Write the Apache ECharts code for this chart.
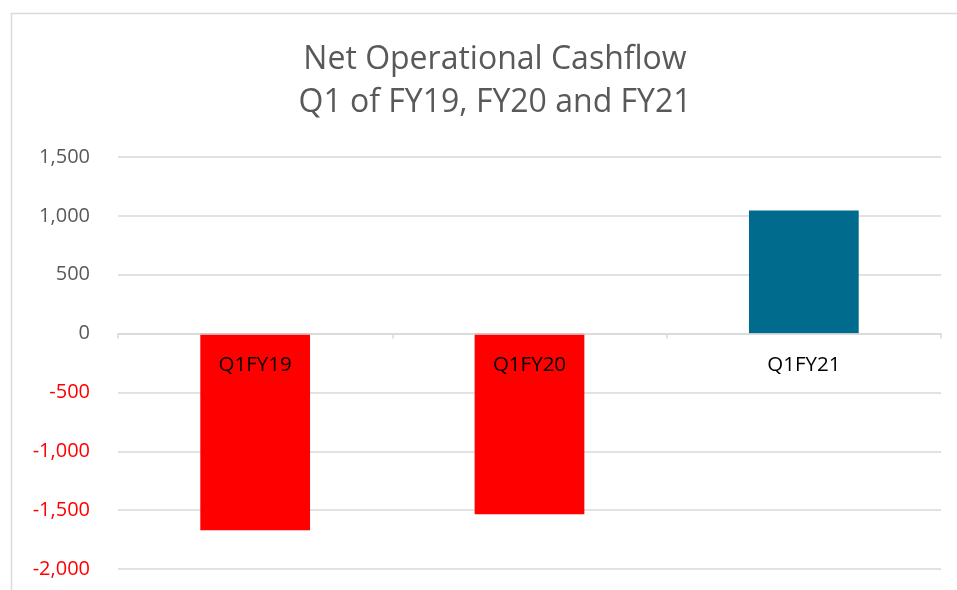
<!DOCTYPE html>
<html lang="en">
<head>
    <meta charset="utf-8">
    <title>Net Operational Cashflow</title>
    <script src="https://cdn.jsdelivr.net/npm/echarts@6/dist/echarts.min.js"></script>
    <style>
        html, body {margin: 0; padding: 0; background: #fff;}
    </style>
</head>
<body>
<div id="main" style="width: 957px;height:590px;"></div>
<script type="application/javascript">
    // data
    var quarters = ['Q1FY19', 'Q1FY20', 'Q1FY21'];
    var cashflow = [-1670, -1535, 1045];
    var titleLines = ['Net Operational Cashflow', 'Q1 of FY19, FY20 and FY21'];

    var chart = echarts.init(document.getElementById('main'));

    function fmt(v) {
        var s = Math.abs(v).toString().replace(/\B(?=(\d{3})+(?!\d))/g, ',');
        return (v < 0 ? '-' : '') + s;
    }

    // grid from 157 to 569 px, value range -2000..1500 -> zero line sits here
    var gridTop = 157, gridBottom = 569, yMin = -2000, yMax = 1500;
    var zeroShift = (gridBottom - gridTop) * (0 - yMin) / (yMax - yMin);

    var option = {
        animation: false,
        backgroundColor: '#fff',
        title: {
            text: titleLines.join('\n'),
            left: 490,
            top: 33,
            textAlign: 'center',
            textStyle: {
                fontFamily: 'Open Sans',
                fontWeight: 'normal',
                fontSize: 32,
                lineHeight: 43,
                color: '#595959'
            }
        },
        // chart area frame, like the Excel border
        graphic: [{
            type: 'rect',
            shape: {x: 11.5, y: 13.5, width: 1000, height: 1000},
            style: {fill: null, stroke: '#d9d9d9', lineWidth: 1.5},
            silent: true
        }],
        grid: {left: 118, right: 16, top: gridTop, bottom: 590 - gridBottom,
            containLabel: false, outerBoundsMode: 'none'},
        xAxis: {
            type: 'category',
            data: quarters,
            position: 'bottom',
            offset: -zeroShift,
            z: 5,
            axisLine: {onZero: false, lineStyle: {color: '#d9d9d9', width: 1.5}},
            axisTick: {show: true, length: 5, lineStyle: {color: '#d9d9d9', width: 1.5}},
            axisLabel: {
                margin: 21,
                fontFamily: 'Open Sans',
                fontSize: 20.5,
                color: '#000'
            }
        },
        yAxis: {
            type: 'value',
            min: yMin,
            max: yMax,
            interval: 500,
            axisLine: {show: false},
            axisTick: {show: false},
            splitLine: {lineStyle: {color: '#d9d9d9', width: 1.5}},
            axisLabel: {
                margin: 28,
                fontFamily: 'Open Sans',
                fontSize: 20,
                formatter: function (v) { return fmt(v); },
                color: function (v) { return Number(v) < 0 ? '#ff0000' : '#595959'; }
            }
        },
        series: [{
            type: 'bar',
            barWidth: '40%',
            z: 2,
            data: cashflow.map(function (v) {
                return {value: v, itemStyle: {color: v < 0 ? '#ff0000' : '#006b8c'}};
            })
        }]
    };

    chart.setOption(option);
</script>
</body>
</html>
